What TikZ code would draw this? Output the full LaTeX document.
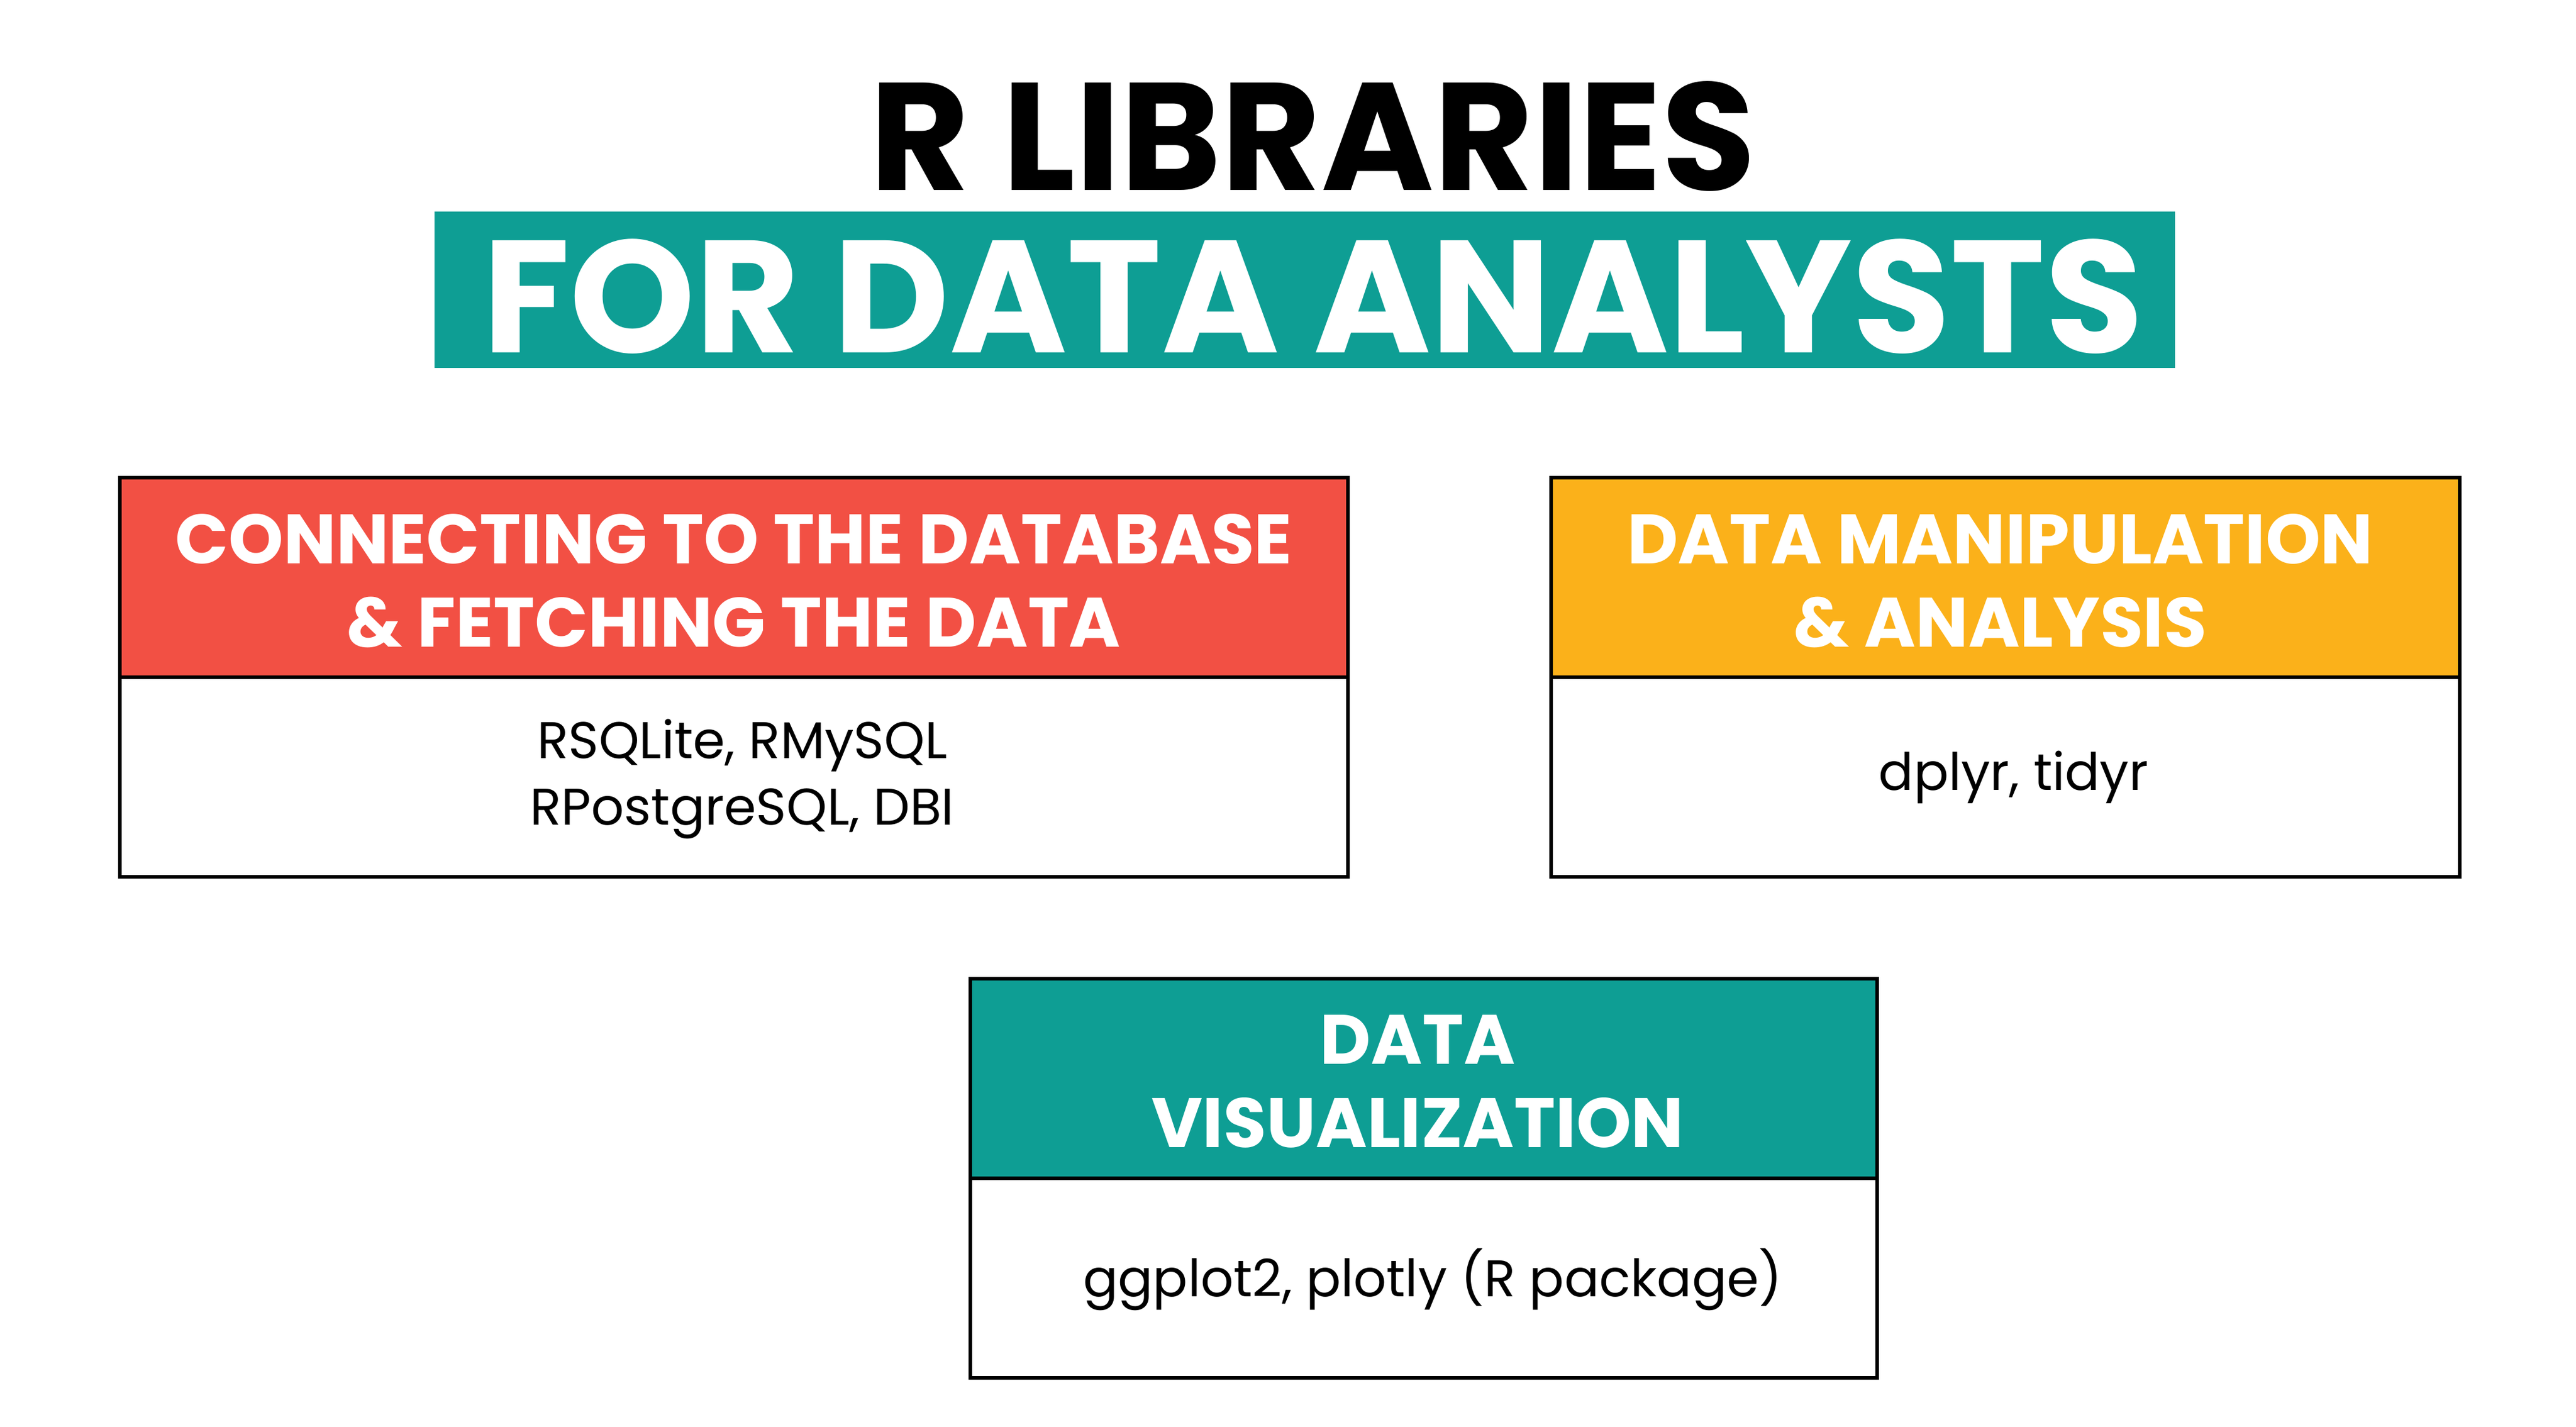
\documentclass[tikz,border=0pt]{standalone}
\usepackage{fontspec}
\setmainfont{Poppins}
\definecolor{teal1}{HTML}{0E9E94}
\definecolor{red1}{HTML}{F25044}
\definecolor{yel1}{HTML}{FBB11A}
\begin{document}
\begin{tikzpicture}[x=1pt,y=-1pt,
  hdr/.style={font=\bfseries\fontsize{42}{50}\selectfont,text=white,align=center},
  body/.style={font=\fontsize{31}{40}\selectfont,align=center},
  frame/.style={draw=black,line width=2.2pt}]
\useasboundingbox (0,0) rectangle (1548,857.5);
\node[font=\bfseries\fontsize{92}{100}\selectfont] (t1) at (789,82) {R LIBRARIES};
\fill[teal1] (261,127) rectangle (1307,221);
\node[font=\bfseries\fontsize{96}{100}\selectfont,text=white] (t2) at (789,178) {FOR DATA ANALYSTS};
% box1
\fill[red1] (72,287) rectangle (810,407);
\draw[frame] (72,287) rectangle (810,527);
\draw[frame] (72,407) -- (810,407);
\node[hdr] (h1) at (441,349) {CONNECTING TO THE DATABASE\\\& FETCHING THE DATA};
\node[body] (b1) at (446,468) {RSQLite, RMySQL\\RPostgreSQL, DBI};
% box2
\fill[yel1] (932,287) rectangle (1478,407);
\draw[frame] (932,287) rectangle (1478,527);
\draw[frame] (932,407) -- (1478,407);
\node[hdr] (h2) at (1202,349) {DATA MANIPULATION\\\& ANALYSIS};
\node[body] (b2) at (1210,467) {dplyr, tidyr};
% box3
\fill[teal1] (583,588) rectangle (1128,708);
\draw[frame] (583,588) rectangle (1128,828);
\draw[frame] (583,708) -- (1128,708);
\node[hdr] (h3) at (852,650) {DATA\\VISUALIZATION};
\node[body] (b3) at (861,769) {ggplot2, plotly (R package)};
\end{tikzpicture}
\end{document}
